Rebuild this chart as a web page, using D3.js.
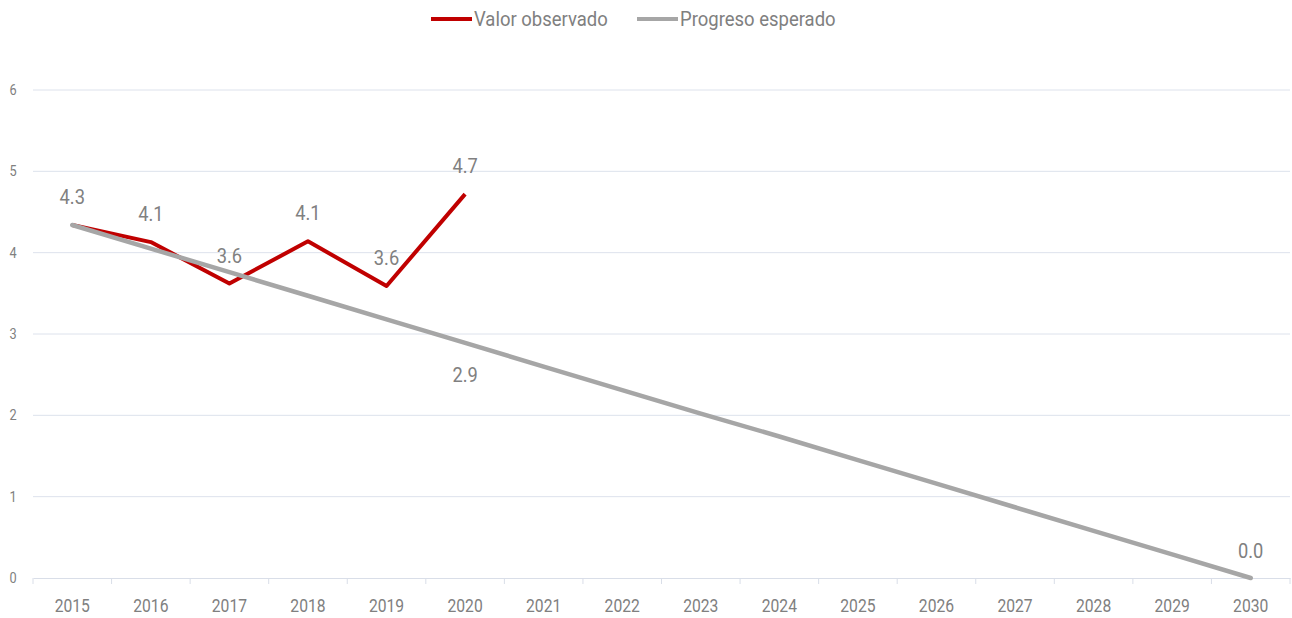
<!DOCTYPE html>
<head><meta charset="utf-8"/></head>
<style>
body { margin: 0; background: #fff; }
svg { font-family: "Roboto", "Liberation Sans", sans-serif; }
.grid line { stroke: #dde2ec; stroke-width: 1; }
.lbl { fill: #808080; }
</style>
<script src="https://d3js.org/d3.v7.min.js"></script>
<body>
<div id="chart"></div>
</body>
<script>

var years = ["2015","2016","2017","2018","2019","2020","2021","2022","2023","2024","2025","2026","2027","2028","2029","2030"];
var observado = [4.34, 4.13, 3.62, 4.14, 3.59, 4.72];
var esperado = [4.34, 4.05, 3.76, 3.47, 3.18, 2.89, 2.60, 2.31, 2.02, 1.74, 1.45, 1.16, 0.87, 0.58, 0.29, 0.00];
var yTicks = [0, 1, 2, 3, 4, 5, 6];
var esperadoLabels = ["2020", "2030"];

var width = 1292, height = 618;
var margin = {top: 90, left: 33, right: 2, bottom: 40};

var svg = d3.select("#chart").append("svg")
    .attr("width", width)
    .attr("height", height);

var x = d3.scaleBand()
    .domain(years)
    .range([margin.left, width - margin.right]);

var y = d3.scaleLinear()
    .domain([0, 6])
    .range([578, 90]);

// narrow the text a bit (condensed look)
function condense(sel, k) {
    sel.each(function() {
        var w = this.getComputedTextLength();
        d3.select(this).attr("textLength", w * k).attr("lengthAdjust", "spacingAndGlyphs");
    });
}

// grid
svg.append("g").attr("class", "grid")
    .selectAll("line")
    .data(yTicks.filter(function(d){ return d > 0; }))
    .enter().append("line")
    .attr("x1", margin.left).attr("x2", width - margin.right)
    .attr("y1", function(d){ return y(d); })
    .attr("y2", function(d){ return y(d); });

// y labels
svg.selectAll(".ytick")
    .data(yTicks)
    .enter().append("text")
    .attr("class", "lbl ytick")
    .attr("x", 13)
    .attr("y", function(d){ return y(d) + 5; })
    .attr("text-anchor", "middle")
    .style("font-size", "15px")
    .text(function(d){ return d; })
    .call(condense, 0.85);

// x axis
var xAxis = d3.axisBottom(x).tickSize(0).tickPadding(21);
var gx = svg.append("g")
    .attr("transform", "translate(0," + y(0) + ")")
    .call(xAxis);
gx.select(".domain").attr("stroke", "#d9dee8");
gx.selectAll("text").attr("fill", "#808080").style("font-size", "18px")
    .style("font-family", "Roboto, sans-serif")
    .call(condense, 0.87);
gx.selectAll(".sep")
    .data(years.concat(["end"]))
    .enter().append("line")
    .attr("class", "sep")
    .attr("x1", function(d, i){ return margin.left + i * x.step(); })
    .attr("x2", function(d, i){ return margin.left + i * x.step(); })
    .attr("y1", 0).attr("y2", 6)
    .attr("stroke", "#d9dee8");

var line = d3.line()
    .x(function(d, i){ return x(years[i]) + x.bandwidth() / 2; })
    .y(function(d){ return y(d); });

svg.append("path")
    .datum(observado)
    .attr("d", line)
    .attr("fill", "none")
    .attr("stroke", "#c00000")
    .attr("stroke-width", 4)
    .attr("stroke-linejoin", "round");

svg.append("path")
    .datum(esperado)
    .attr("d", line)
    .attr("fill", "none")
    .attr("stroke", "#a6a6a6")
    .attr("stroke-width", 4.5)
    .attr("stroke-linecap", "round");

// labels observado
svg.selectAll(".obsLbl")
    .data(observado)
    .enter().append("text")
    .attr("class", "lbl obsLbl")
    .attr("x", function(d, i){ return x(years[i]) + x.bandwidth() / 2; })
    .attr("y", function(d){ return y(d) - 21; })
    .attr("text-anchor", "middle")
    .style("font-size", "21px")
    .text(function(d){ return d.toFixed(1); })
    .call(condense, 0.87);

// labels esperado
svg.selectAll(".espLbl")
    .data(esperadoLabels)
    .enter().append("text")
    .attr("class", "lbl espLbl")
    .attr("x", function(d){ return x(d) + x.bandwidth() / 2; })
    .attr("y", function(d){
        var v = esperado[years.indexOf(d)];
        return d === "2030" ? y(v) - 20 : y(v) + 39;
    })
    .attr("text-anchor", "middle")
    .style("font-size", "21px")
    .text(function(d){ return esperado[years.indexOf(d)].toFixed(1); })
    .call(condense, 0.87);

// legend
var legend = [
    {name: "Valor observado", color: "#c00000", x: 431},
    {name: "Progreso esperado", color: "#a6a6a6", x: 637}
];
var lg = svg.selectAll(".legend")
    .data(legend)
    .enter().append("g")
    .attr("transform", function(d){ return "translate(" + d.x + ",19)"; });
lg.append("line")
    .attr("x1", 0).attr("x2", 41)
    .attr("stroke", function(d){ return d.color; })
    .attr("stroke-width", 4);
lg.append("text")
    .attr("class", "lbl")
    .attr("x", 43)
    .attr("y", 7)
    .style("font-size", "21px")
    .text(function(d){ return d.name; })
    .call(condense, 0.88);

</script>
